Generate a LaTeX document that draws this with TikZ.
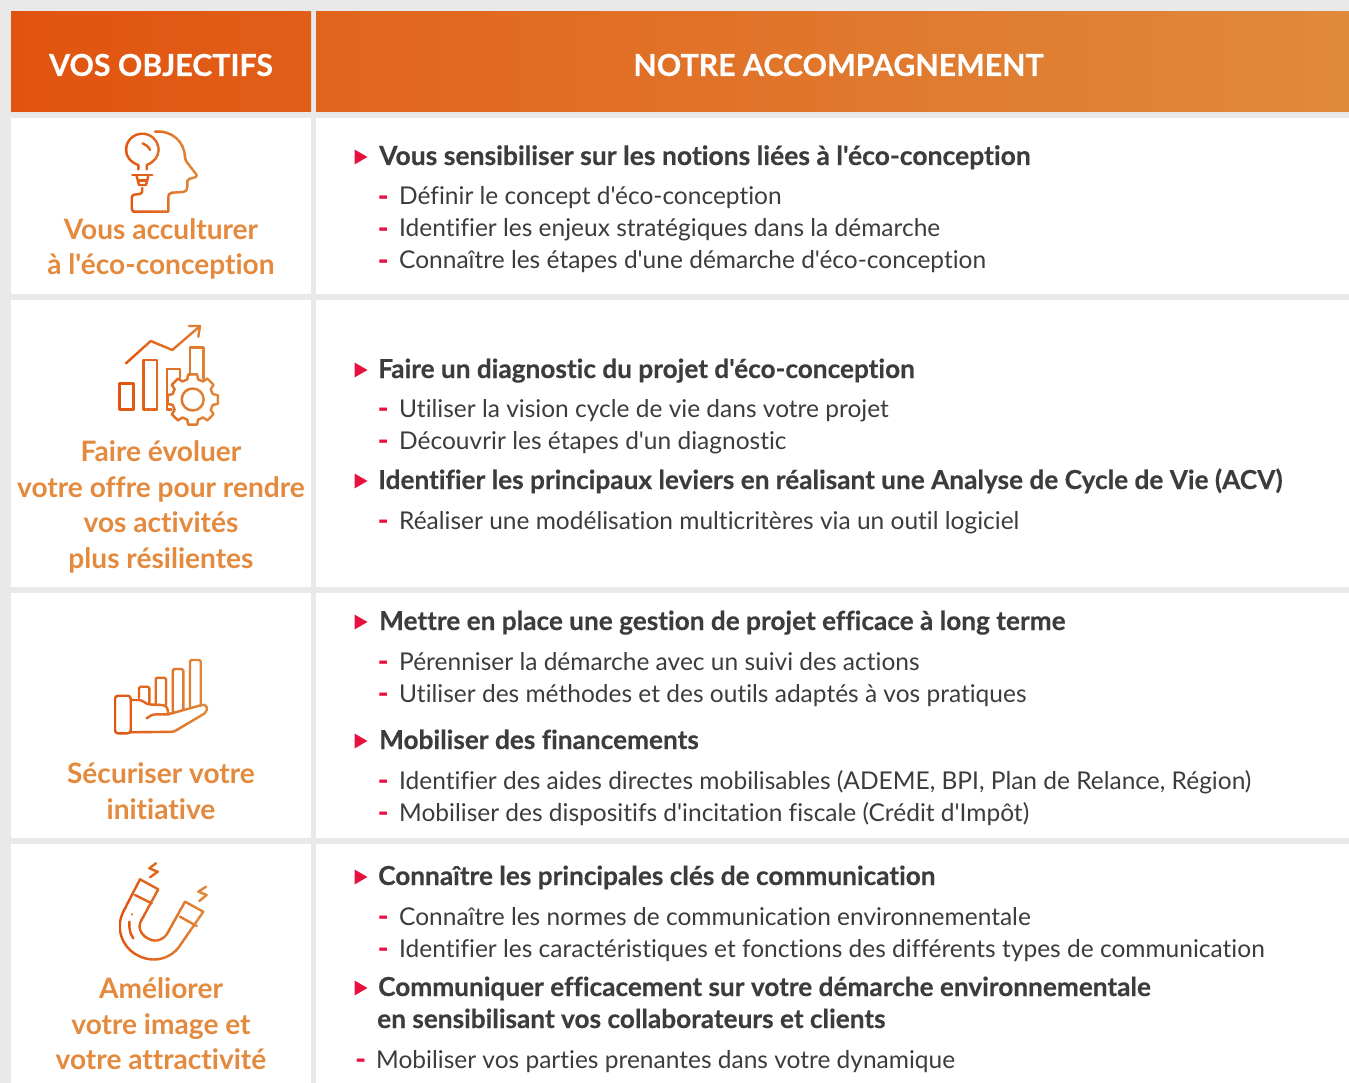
\documentclass[tikz,border=0pt]{standalone}
\usepackage{fontspec}
\setmainfont[Ligatures={TeXOff,NoCommon}]{Lato}
\newfontfamily\hvy[Ligatures={TeXOff,NoCommon},FakeBold=0.35]{Lato Bold}
\definecolor{pagebg}{HTML}{E9E9E9}
\definecolor{oA}{HTML}{E1540F}
\definecolor{oAb}{HTML}{E15E18}
\definecolor{oAc}{HTML}{E1641D}
\definecolor{oB}{HTML}{E08A3B}
\definecolor{lab}{HTML}{E38A3E}
\definecolor{rd}{HTML}{E8103F}
\definecolor{ink}{HTML}{3C3C3B}
\newcommand{\gradicon}[3]{%
  \foreach \gi in {0,...,24}{%
    \pgfmathsetmacro{\gp}{\gi*4}%
    \pgfmathsetmacro{\gxa}{#1+(#2-#1)*\gi/25}%
    \pgfmathsetmacro{\gxb}{#1+(#2-#1)*(\gi+1)/25+0.4}%
    \colorlet{stripcol}{oB!\gp!oA}%
    \begin{scope}
      \clip (\gxa,0) rectangle (\gxb,1083);
      #3
    \end{scope}
  }%
}
\begin{document}
\begin{tikzpicture}[x=1pt,y=-1pt,
 head/.style={font=\fontsize{30.3}{35}\selectfont\hvy,text=white,inner sep=0pt,anchor=center},
 objlab/.style={font=\fontsize{28.1}{35.4}\selectfont\bfseries,text=lab,align=center,inner sep=0pt,anchor=center},
 title/.style={font=\fontsize{26.2}{32}\selectfont\hvy,text=ink,anchor=base west,inner sep=0pt},
 body/.style={font=\fontsize{24.5}{32}\selectfont,text=ink,anchor=base west,inner sep=0pt},
 tri/.style={fill=rd,draw=none},
 dashm/.style={font=\fontsize{29}{32}\selectfont\hvy,text=rd,anchor=base west,inner sep=0pt},
 ico/.style={draw=stripcol,line width=2.4pt,line join=round,line cap=round,fill=none},
]
\useasboundingbox (0,0) rectangle (1349,1083);
\fill[pagebg] (0,0) rectangle (1349,1083);
\shade[left color=oA,right color=oAb] (11,12) rectangle (311,112);
\shade[left color=oAc,right color=oB] (316,12) rectangle (1349,112);
\foreach \a/\b in {118/294,300/587,593/838,844/1083}{
 \fill[white] (11,\a) rectangle (311,\b);
 \fill[white] (316,\a) rectangle (1349,\b);
}
\node[head] (h1) at (161,65) {VOS OBJECTIFS};
\node[head] (h2) at (838.5,65) {NOTRE ACCOMPAGNEMENT};
\node[objlab] (o1) at (161,249) {Vous acculturer\\à l'éco-conception};
\node[objlab] (o2) at (161,507) {Faire évoluer\\votre offre pour rendre\\vos activités\\plus résilientes};
\node[objlab] (o3) at (161,791) {Sécuriser votre\\initiative};
\node[objlab] (o4) at (161,1024) {Améliorer\\votre image et\\votre attractivité};
\newcommand{\Ttl}[4]{\fill[tri] (354.5,#2-7.5) -- (367.5,#2) -- (354.5,#2+7.5) -- cycle; \node[title] (#1) at (#3,#2+8) {#4};}
\newcommand{\Bdy}[3]{\node[dashm] at (377.5,#2+9) {-}; \node[body] (#1) at (399,#2+8) {#3};}
\Ttl{t1}{157}{379}{\fontsize{26.5}{32}\selectfont Vous sensibiliser sur les notions liées à l'éco-conception}
\Bdy{b1}{197}{Définir le concept d'éco-conception}
\Bdy{b2}{229}{Identifier les enjeux stratégiques dans la démarche}
\Bdy{b3}{261}{Connaître les étapes d'une démarche d'éco-conception}
\Ttl{t2}{370}{378}{Faire un diagnostic du projet d'éco-conception}
\Bdy{b4}{409}{Utiliser la vision cycle de vie dans votre projet}
\Bdy{b5}{441}{Découvrir les étapes d'un diagnostic}
\Ttl{t3}{481}{378}{Identifier les principaux leviers en réalisant une Analyse de Cycle de Vie (ACV)}
\Bdy{b6}{521}{Réaliser une modélisation multicritères via un outil logiciel}
\Ttl{t4}{622}{379}{Mettre en place une gestion de projet efficace à long terme}
\Bdy{b7}{662}{Pérenniser la démarche avec un suivi des actions}
\Bdy{b8}{694}{Utiliser des méthodes et des outils adaptés à vos pratiques}
\Ttl{t5}{741}{379}{Mobiliser des financements}
\Bdy{b9}{781}{Identifier des aides directes mobilisables (ADEME, BPI, Plan de Relance, Région)}
\Bdy{b10}{813}{Mobiliser des dispositifs d'incitation fiscale (Crédit d'Impôt)}
\Ttl{t6}{877}{378}{Connaître les principales clés de communication}
\Bdy{b11}{917}{Connaître les normes de communication environnementale}
\Bdy{b12}{949}{Identifier les caractéristiques et fonctions des différents types de communication}
\Ttl{t7}{988}{378}{Communiquer efficacement sur votre démarche environnementale}
\node[title] (t7b) at (377,1028) {en sensibilisant vos collaborateurs et clients};
\node[dashm] at (355,1069) {-};
\node[body] (b13) at (376,1068) {Mobiliser vos parties prenantes dans votre dynamique};
% icon 1 : head with bulb
\gradicon{124}{198}{
 \draw[ico] (155,131.7) .. controls (172,130) and (185,142) .. (185,158) -- (186,161) -- (196.7,175) -- (196,177) -- (189,179) -- (187.3,181) -- (187.3,187) .. controls (187.3,190) and (186,192) .. (183,192) -- (172,192.7) .. controls (169,193) and (168.3,195) .. (168.3,197) -- (168.3,211.7) -- (133.3,211.7) -- (131.7,209) -- (131.7,198) .. controls (131.7,195.5) and (133,195) .. (135,194.5) -- (140,194) .. controls (142,193.5) and (142.3,192.5) .. (142.3,188);
 \draw[ico] (138.3,169.5) -- (138.3,165) .. controls (130,162) and (126,156) .. (126,150) arc[start angle=180,end angle=360,radius=16.3] .. controls (158.6,156) and (154.6,162) .. (146.7,165) -- (146.7,169.5);
 \draw[ico] (132.3,175) -- (152.3,175);
 \draw[ico] (136.7,176) -- (139,185) -- (146,185) -- (148.3,176);
 \draw[ico] (138.5,180.5) -- (146.5,180.5);
 \draw[ico] (142.7,143.3) .. controls (146,144.5) and (149,147) .. (150,150);
}
% icon 2 : bars, arrow, gear
\gradicon{118}{219}{
 \draw[ico] (119.5,383.3) rectangle (133.3,409.3);
 \draw[ico] (143.3,360) rectangle (156.7,409.3);
 \draw[ico] (171.5,409.3) -- (166.7,409.3) -- (166.7,369) -- (180,369) -- (180,378);
 \draw[ico] (190,375) -- (190,347.3) -- (203.3,347.3) -- (203.3,379);
 \draw[ico] (126,363.3) -- (150.7,341) -- (172.3,350) -- (199.3,326.7);
 \draw[ico] (189,326) -- (200,326) -- (198.3,336.7);
 \draw[ico] (192.7,399.5) circle[radius=11];
 \begin{scope}[shift={(192.7,399.5)}]
  \draw[ico] (-10:25.5) \foreach \k in {0,...,7}{ -- (45*\k-10:25.5) -- (45*\k+10:25.5) -- (45*\k+15:20.8) -- (45*\k+30:20.8) } -- cycle;
 \end{scope}
}
% icon 3 : hand with bars
\gradicon{114}{208}{
 \draw[ico,rounded corners=3pt] (115,695.7) rectangle (130.7,733.3);
 \draw[ico,rounded corners=1.5pt] (139,698) -- (139,686.7) -- (149.3,686.7) -- (149.3,704);
 \draw[ico,rounded corners=1.5pt] (155.7,705) -- (155.7,677.7) -- (166,677.7) -- (166,705);
 \draw[ico,rounded corners=1.5pt] (172.7,712) -- (172.7,669) -- (183.3,669) -- (183.3,710);
 \draw[ico,rounded corners=1.5pt] (190,707) -- (190,660) -- (200.7,660) -- (200.7,706);
 \draw[ico] (130.7,700) -- (139,700) .. controls (143,700) and (145,704) .. (150,704.5) -- (161.7,705) .. controls (166,705) and (168.3,708) .. (168.3,714.3) -- (156.7,714.3) .. controls (152,714.5) and (149,716) .. (146.7,718.3);
 \draw[ico] (168.3,714.3) -- (201.7,705) .. controls (205,704) and (208,707) .. (206.7,710) .. controls (206,712) and (205,713) .. (204,713.8) -- (175,731) .. controls (174,731.7) and (173,731.8) .. (172,731.8) -- (130.7,732.3);
}
% icon 4 : magnet
\gradicon{119}{208}{
 \draw[ico] (140,879.3) -- (123.3,911.7) .. controls (115,928) and (122,947) .. (137,955) .. controls (153,964) and (172,959) .. (181,944) -- (203.3,911.7) -- (185,901.7) -- (168.3,931.7) .. controls (165,939) and (156,943) .. (149,939) .. controls (142,936) and (137,928) .. (141,921) -- (158.3,889.3) -- cycle;
 \draw[ico] (135,895) -- (151.7,903.3);
 \draw[ico] (180,916.7) -- (196.7,926);
 \draw[ico] (131.7,914.3) -- (131.7,914.4);
 \draw[ico] (129.3,921.7) .. controls (129,928) and (130,934) .. (133.3,938.3);
 \draw[ico] (156,863.3) -- (149.3,868.3) -- (157.7,871.7) -- (150,877.3);
 \draw[ico] (206,886.7) -- (198.3,891.7) -- (206.7,895) -- (199.3,901);
}
\end{tikzpicture}
\end{document}
